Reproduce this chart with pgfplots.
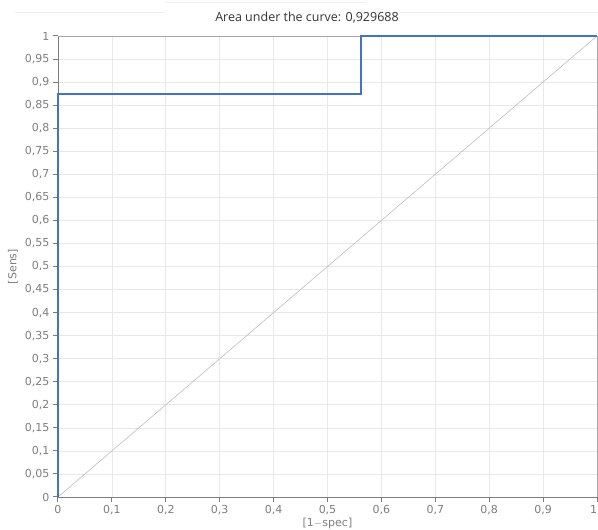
\documentclass[border=0pt]{standalone}
\usepackage{pgfplots}
\pgfplotsset{compat=1.18}
\usepackage{fontspec}
\setmainfont{DejaVu Sans}
\newfontfamily\titlefont{Open Sans}
\definecolor{roc}{RGB}{68,114,196}
\definecolor{tickgray}{RGB}{125,125,125}
\definecolor{gridgray}{RGB}{232,232,232}
\definecolor{diaggray}{RGB}{190,190,190}
\begin{document}
\begin{tikzpicture}[x=1pt,y=1pt]
\begin{axis}[
  at={(0pt,0pt)}, anchor=origin,
  scale only axis, width=539pt, height=461pt,
  xmin=0, xmax=1, ymin=0, ymax=1,
  xtick={0,0.1,0.2,0.3,0.4,0.5,0.6,0.7,0.8,0.9,1},
  xticklabels={0,{0,1},{0,2},{0,3},{0,4},{0,5},{0,6},{0,7},{0,8},{0,9},\makebox[0pt][r]{1}},
  ytick={0,0.05,...,1.01},
  /pgf/number format/.cd, use comma, fixed, precision=2, assume math mode=true,
  /pgfplots/.cd,
  ticklabel style={font=\fontsize{11}{13}\selectfont, text=tickgray},
  tick style={draw=tickgray, line width=1pt},
  tick align=outside, major tick length=5pt,
  xtick pos=bottom, ytick pos=left,
  grid=major, major grid style={draw=gridgray, line width=0.6pt},
  axis line style={tickgray, line width=0.9pt},
  xlabel={[1$-$spec]}, ylabel={[Sens]},
  label style={font=\fontsize{11}{13}\selectfont, text=tickgray},
  xlabel style={at={(axis description cs:0.5,0)}, anchor=center, yshift=-26pt},
  ylabel style={at={(axis description cs:0,0.5)}, anchor=center, yshift=45pt},
  clip=false,
]
\addplot[diaggray, line width=0.6pt] coordinates {(0,0) (1,1)};
\draw[black!35, line width=0.9pt] (axis cs:0,1) -- (axis cs:1,1) -- (axis cs:1,0);
\addplot[roc, line width=1.8pt] coordinates {(0,0) (0,0.875) (0.5625,0.875) (0.5625,1) (1,1)};
\end{axis}
\draw[gray!12, line width=0.8pt] (-43pt,485pt) -- (107pt,485pt);
\draw[gray!12, line width=0.8pt] (107pt,495pt) -- (307pt,495pt);
\draw[gray!12, line width=0.8pt] (307pt,485pt) -- (540pt,485pt);
\node[font=\titlefont\fontsize{12.5}{14}\selectfont, text=black!80] at (249pt,479pt) {Area under the curve: 0,929688};
\pgfresetboundingbox
\path (-58pt,-33pt) rectangle (540pt,497pt);
\end{tikzpicture}
\end{document}
